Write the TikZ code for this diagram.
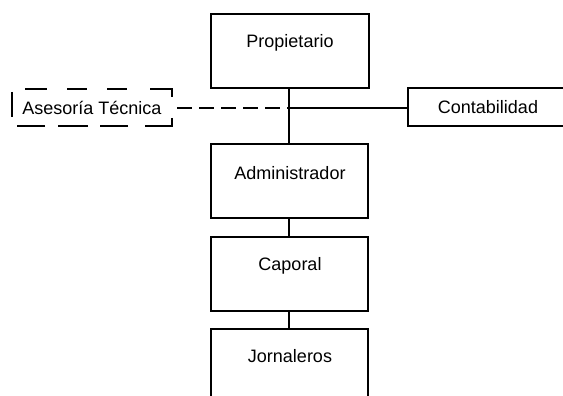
\documentclass[tikz,border=0pt]{standalone}
\usepackage{fontspec}
\setmainfont{Liberation Sans}
\begin{document}
\begin{tikzpicture}[x=1pt,y=-1pt,
  box/.style={draw=black,line width=1.3pt,rectangle,inner sep=0pt},
  lbl/.style={font=\fontsize{18}{20}\selectfont,text=black},
  link/.style={draw=black,line width=1.3pt},
  dashlink/.style={draw=black,line width=1.3pt,dash pattern=on 15pt off 7pt},
  dashseg/.style={draw=black,line width=1.3pt}]
\useasboundingbox (0,0) rectangle (563,396);
\clip (0,0) rectangle (563,396);
\fill[white] (0,0) rectangle (563,396);
% boxes
\draw[box] (211,14) rectangle (369,88);
\node[lbl] (prop) at (290,43) {Propietario};
\draw[box] (211,144) rectangle (368,218);
\node[lbl] (adm) at (290,173) {Administrador};
\draw[box] (211,237) rectangle (368,311);
\node[lbl] (cap) at (290,266) {Caporal};
\draw[box] (211,329) rectangle (368,420);
\node[lbl] (jor) at (290,356) {Jornaleros};
\draw[box] (408,88) rectangle (580,126);
\node[lbl] (cont) at (488,107) {Contabilidad};
\node[lbl] (ases) at (92,108) {Asesoría Técnica};
% dashed box drawn as separate dashes
\draw[dashseg] (25,89) -- (47,89) (67,89) -- (87,89) (107,89) -- (127,89);
\draw[dashseg] (150,89) -- (172,89) -- (172,97);
\draw[dashseg] (172,118) -- (172,126) -- (145,126);
\draw[dashseg] (128,126) -- (100,126) (88,126) -- (58,126) (45,126) -- (17,126);
\draw[dashseg] (12,92) -- (12,117);
% connectors
\coordinate (pb) at (289,88);
\coordinate (at) at (289,144);
\coordinate (j) at (289,108);
\coordinate (ar) at (177,108);
\coordinate (cl) at (408,108);
\coordinate (ab) at (289,218);
\coordinate (ct) at (289,237);
\coordinate (cb) at (289,311);
\coordinate (jt) at (289,329);
\draw[link] (pb) -- (at);
\draw[link] (j) -- (cl);
\draw[dashlink] (ar) -- (j);
\draw[link] (ab) -- (ct);
\draw[link] (cb) -- (jt);
\end{tikzpicture}
\end{document}
